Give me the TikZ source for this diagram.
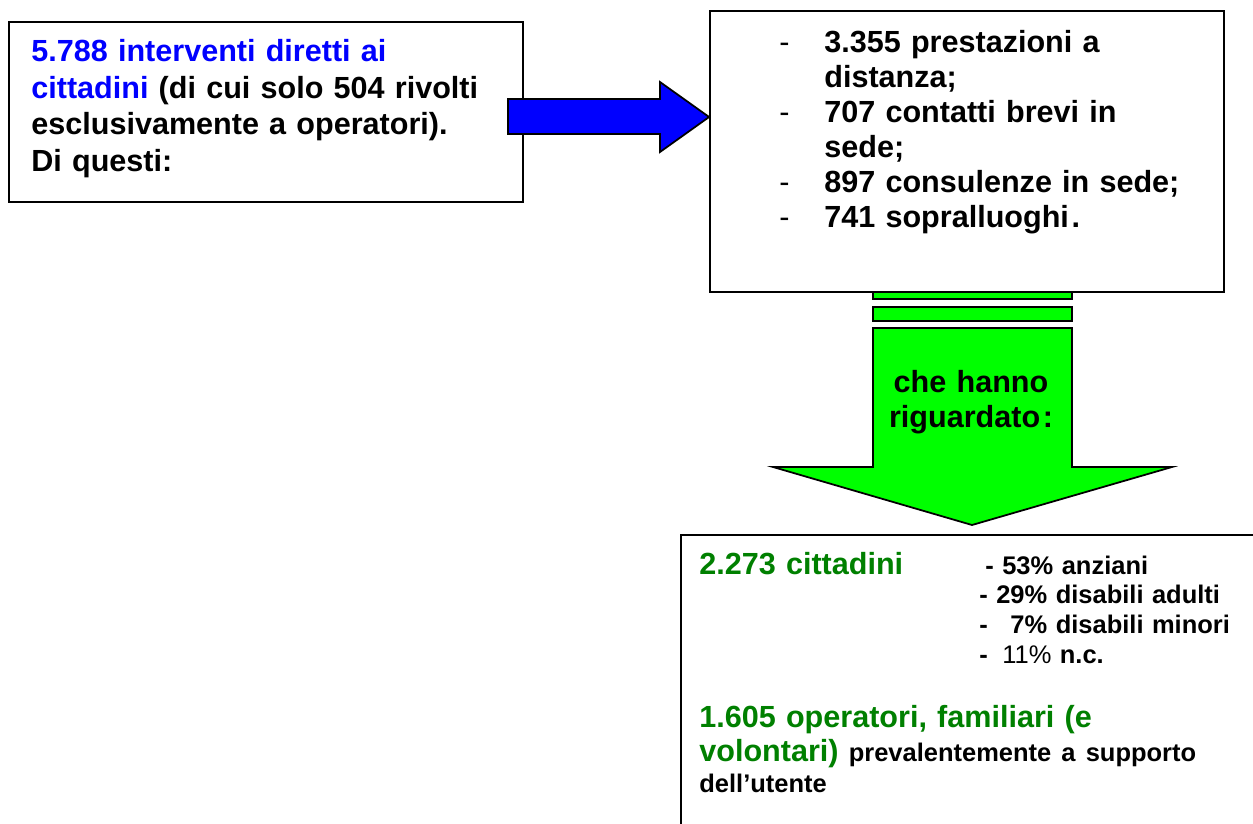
\documentclass[tikz,border=0pt]{standalone}
\usepackage{fontspec}
\setmainfont{Liberation Sans}
\usetikzlibrary{positioning, calc}
\definecolor{arrblue}{HTML}{0000FF}
\definecolor{arrgreen}{HTML}{00FF00}
\definecolor{txtgreen}{HTML}{008000}
\tikzset{
  box/.style={rectangle, draw=black, line width=1.1pt, fill=white, inner sep=0pt},
  txt/.style={inner sep=0pt, anchor=base west, align=left, text width=12cm},
  ctxt/.style={inner sep=0pt, anchor=base, align=center, text width=5cm},
  big/.style={font=\fontsize{17.4}{20.7}\selectfont\bfseries},
  lst/.style={font=\fontsize{17.4}{19.9}\selectfont\bfseries},
  small/.style={font=\fontsize{14.5}{17}\selectfont\bfseries},
  blockarr/.style={draw=black, line width=1pt, line join=miter},
}

\begin{document}
\begin{tikzpicture}[x=0.02cm, y=-0.02cm]
  \useasboundingbox (0,0) rectangle (1253,824);
  \clip (0,0) rectangle (1253,824);
  % green block arrow, under the boxes
  \coordinate (gtip) at (972,525);
  \filldraw[blockarr, fill=arrgreen] (873,285) rectangle (1072,299);
  \filldraw[blockarr, fill=arrgreen] (873,307) rectangle (1072,321);
  \filldraw[blockarr, fill=arrgreen] (873,328) -- (873,467) -- (773,467) -- (gtip)
    -- (1172,467) -- (1072,467) -- (1072,328) -- cycle;
  % boxes
  \node[box, minimum width=10.28cm, minimum height=3.6cm] (box1) at (266,112) {};
  \node[box, minimum width=10.28cm, minimum height=5.62cm] (box2) at (967,151.5) {};
  \node[box, anchor=north west, minimum width=12cm, minimum height=6.6cm] (box3) at (680,534) {};
  % blue block arrow
  \coordinate (btip) at (box2.west |- 0,117);
  \filldraw[blockarr, fill=arrblue] (508,99) -- (660,99) -- (660,82) -- (btip)
    -- (660,152) -- (660,134) -- (508,134) -- cycle;
  % texts
  \node[txt, big] (intv) at (31,62)
    {{\color{arrblue}5.788 interventi diretti ai\\cittadini} (di cui solo 504 rivolti\\esclusivamente a operatori).\\Di questi:};
  \node[txt, lst] (prest) at (779,53)
    {\begin{tabular}[t]{@{}p{0.9cm}@{}l@{}}
      \mdseries- & 3.355 prestazioni a\\
       & distanza;\\
      \mdseries- & 707 contatti brevi in\\
       & sede;\\
      \mdseries- & 897 consulenze in sede;\\
      \mdseries- & 741 sopralluoghi\kern1.5pt.
    \end{tabular}};
  \node[ctxt, big, font=\fontsize{17.4}{20.4}\selectfont\bfseries] (rig) at (971,392)
    {che hanno\\riguardato\kern1.5pt:};
  \node[txt, big, text=txtgreen] (cit) at (699,574) {2.273 cittadini};
  \node[txt, small] (cat) at (979,574)
    {\hspace*{0.12cm}- 53\% anziani\\- 29\% disabili adulti\\- \hphantom{2}7\% disabili minori\\- \hspace{0.12cm}{\mdseries 11\%} n.c.};
  \node[txt, lst] (ope) at (699,727)
    {\textcolor{txtgreen}{1.605 operatori, familiari (e\\volontari)} {\fontsize{14.5}{17}\selectfont prevalentemente a supporto}\\[-2.3pt]
     {\fontsize{14.5}{17}\selectfont dell’utente}};
\end{tikzpicture}
\end{document}
